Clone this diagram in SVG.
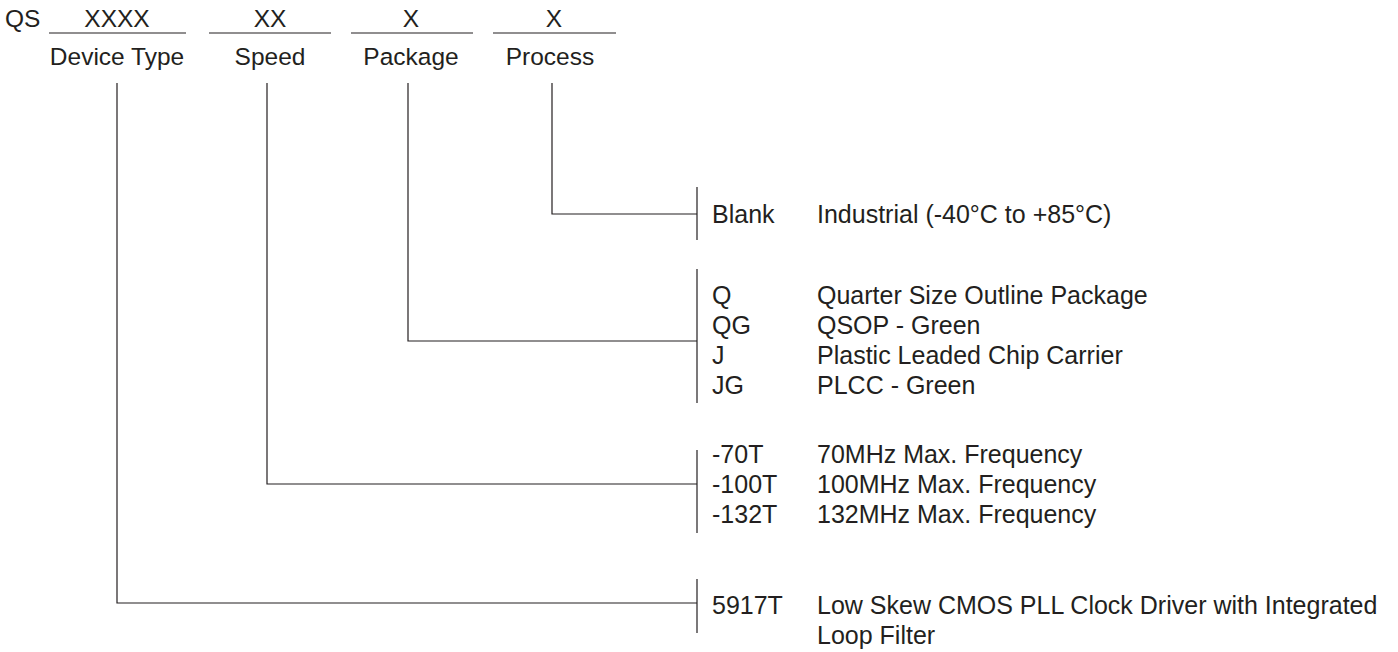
<svg xmlns="http://www.w3.org/2000/svg" width="1398" height="652" viewBox="0 0 1398 652">
<style>
  text { font-family: "Liberation Sans", Arial, Helvetica, sans-serif; font-size: 25px; fill: #231f20; }
  .hdr { font-size: 24.5px; }
  .mid { text-anchor: middle; }
  .ln { stroke: #231f20; stroke-width: 1.2; fill: none; }
</style>
<rect width="1398" height="652" fill="#ffffff"/>
<g id="header">
  <g id="prefix"><text class="hdr" x="5" y="27">QS</text></g>
  <g id="field-device-type">
    <text class="hdr mid" x="117" y="27">XXXX</text>
    <line class="ln" x1="49" y1="33" x2="186" y2="33"/>
    <text class="hdr mid" x="117" y="65">Device Type</text>
  </g>
  <g id="field-speed">
    <text class="hdr mid" x="270" y="27">XX</text>
    <line class="ln" x1="209" y1="33" x2="331" y2="33"/>
    <text class="hdr mid" x="270" y="65">Speed</text>
  </g>
  <g id="field-package">
    <text class="hdr mid" x="411" y="27">X</text>
    <line class="ln" x1="351" y1="33" x2="473" y2="33"/>
    <text class="hdr mid" x="411" y="65">Package</text>
  </g>
  <g id="field-process">
    <text class="hdr mid" x="554" y="27">X</text>
    <line class="ln" x1="493" y1="33" x2="616" y2="33"/>
    <text class="hdr mid" x="550" y="65">Process</text>
  </g>
</g>
<g id="connectors">
  <polyline class="ln" points="552,83 552,214 697,214"/>
  <polyline class="ln" points="408,83 408,341 697,341"/>
  <polyline class="ln" points="267,83 267,484 697,484"/>
  <polyline class="ln" points="117,83 117,603 697,603"/>
</g>
<g id="process-options">
  <line class="ln" x1="697" y1="187" x2="697" y2="240"/>
  <text x="712" y="223">Blank</text>
  <text x="817" y="223">Industrial (-40°C to +85°C)</text>
</g>
<g id="package-options">
  <line class="ln" x1="697" y1="269" x2="697" y2="403"/>
  <text x="712" y="304">Q</text><text x="817" y="304">Quarter Size Outline Package</text>
  <text x="712" y="334">QG</text><text x="817" y="334">QSOP - Green</text>
  <text x="712" y="364">J</text><text x="817" y="364">Plastic Leaded Chip Carrier</text>
  <text x="712" y="394">JG</text><text x="817" y="394">PLCC - Green</text>
</g>
<g id="speed-options">
  <line class="ln" x1="697" y1="450" x2="697" y2="533"/>
  <text x="712" y="463">-70T</text><text x="817" y="463">70MHz Max. Frequency</text>
  <text x="712" y="493">-100T</text><text x="817" y="493">100MHz Max. Frequency</text>
  <text x="712" y="523">-132T</text><text x="817" y="523">132MHz Max. Frequency</text>
</g>
<g id="device-options">
  <line class="ln" x1="697" y1="579" x2="697" y2="633"/>
  <text x="712" y="614">5917T</text>
  <text x="817" y="614">Low Skew CMOS PLL Clock Driver with Integrated</text>
  <text x="817" y="644">Loop Filter</text>
</g>
</svg>
